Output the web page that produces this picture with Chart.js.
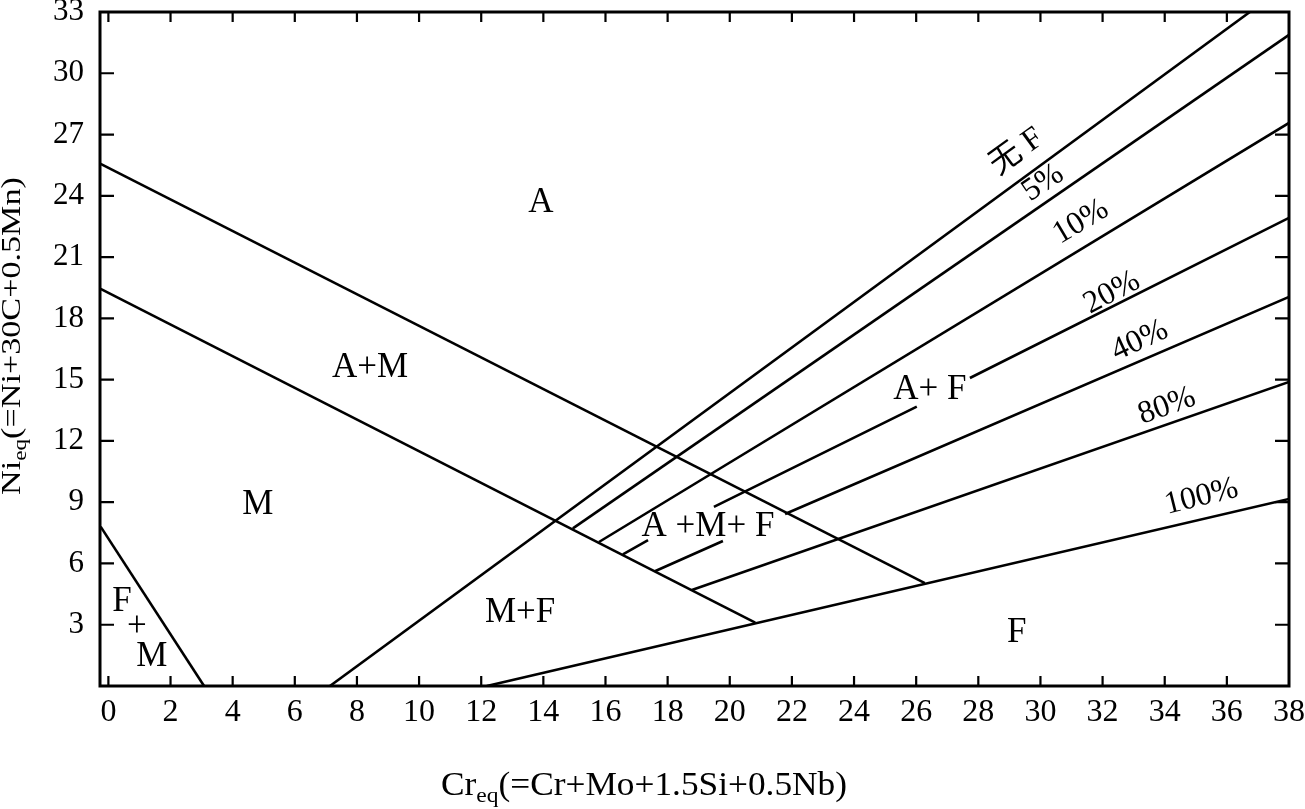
<!DOCTYPE html>
<html>
<head>
<meta charset="utf-8">
<script src="https://cdn.jsdelivr.net/npm/chart.js@4.4.0/dist/chart.umd.min.js"></script>
<style>
  body { margin: 0; background: #fff; }
</style>
</head>
<body>
<canvas id="myChart" width="1305" height="809"></canvas>
<script>
// tick values
const xTicks = [0, 2, 4, 6, 8, 10, 12, 14, 16, 18, 20, 22, 24, 26, 28, 30, 32, 34, 36, 38];
const yTicks = [0, 3, 6, 9, 12, 15, 18, 21, 24, 27, 30, 33];

// boundary lines, [Cr_eq, Ni_eq]; a null y breaks the line (room for a label)
const lineFM = [[-0.25, 7.8], [3.08, 0]];
const lineA = [[-0.25, 25.56], [26.28, 5.04]];
const lineM = [[-0.25, 19.44], [20.82, 3.1]];
const lineNoF = [[7.13, 0], [36.74, 33]];
const line5 = [[14.95, 7.72], [38, 31.88]];
const line10 = [[15.79, 7.05], [38, 27.57]];
const line20 = [[16.56, 6.45], [17.37, 7.14], [18.4, null], [19.49, 8.77], [26.02, 13.68], [26.9, null], [27.73, 15.08], [38, 22.92]];
const line40 = [[17.59, 5.62], [19.78, 7.1], [20.8, null], [21.78, 8.42], [38, 19.05]];
const line80 = [[18.78, 4.7], [38, 14.89]];
const line100 = [[12.18, 0], [38, 9.16]];

// region names
const regionText = ['A', 'A+M', 'M', 'F', '+', 'M', 'M+F', 'F', 'A +M+ F', 'A+ F'];
const regionX = [13.92, 8.42, 4.81, 0.44, 0.92, 1.4, 13.25, 29.24, 19.3, 26.44];
const regionY = [23.65, 15.57, 8.86, 4.1, 2.89, 1.42, 3.57, 2.6, 7.79, 14.5];

// ferrite content labels along the lines
const ferriteText = ['无 F', '5%', '10%', '20%', '40%', '80%', '100%'];
const ferriteX = [29.24, 30.08, 31.3, 32.3, 33.2, 34.07, 35.18];
const ferriteY = [26.15, 24.63, 22.72, 19.25, 16.9, 13.7, 9.26];
const ferriteAngle = [-36, -34, -31, -28, -25, -20, -14];

const serif = '"Liberation Serif", "Times New Roman", "Noto Sans CJK SC", serif';

function toXY(arr) {
    return arr.map(p => ({ x: p[0], y: p[1] }));
}

const lines = [lineFM, lineA, lineM, lineNoF, line5, line10, line20, line40, line80, line100];

// subscripted text, parts = [[text, isSub], ...], centred on 0,0
function drawParts(ctx, parts, size, stretch) {
    const subSize = Math.round(size * 0.68);
    ctx.scale(stretch, 1);
    let total = 0;
    parts.forEach(p => {
        ctx.font = (p[1] ? subSize : size) + 'px ' + serif;
        total += ctx.measureText(p[0]).width;
    });
    let x = -total / 2;
    ctx.textAlign = 'left';
    ctx.textBaseline = 'middle';
    parts.forEach(p => {
        ctx.font = (p[1] ? subSize : size) + 'px ' + serif;
        ctx.fillText(p[0], x, p[1] ? size * 0.3 : 0);
        x += ctx.measureText(p[0]).width;
    });
}

const diagramPlugin = {
    id: 'diagram',
    afterDraw(chart) {
        const ctx = chart.ctx;
        const a = chart.chartArea;
        const xs = chart.scales.x, ys = chart.scales.y;
        ctx.save();
        ctx.fillStyle = '#000';
        ctx.strokeStyle = '#000';

        // frame
        ctx.lineWidth = 3;
        ctx.strokeRect(a.left, a.top, a.right - a.left, a.bottom - a.top);

        // inward ticks
        ctx.lineWidth = 2.2;
        ctx.beginPath();
        xTicks.forEach(v => {
            const px = xs.getPixelForValue(v);
            if (px <= a.left + 2 || px >= a.right - 2) return;
            ctx.moveTo(px, a.bottom); ctx.lineTo(px, a.bottom - 10);
            ctx.moveTo(px, a.top); ctx.lineTo(px, a.top + 10);
        });
        yTicks.forEach(v => {
            const py = ys.getPixelForValue(v);
            if (py <= a.top + 2 || py >= a.bottom - 2) return;
            ctx.moveTo(a.left, py); ctx.lineTo(a.left + 14, py);
            ctx.moveTo(a.right, py); ctx.lineTo(a.right - 14, py);
        });
        ctx.stroke();

        // region names
        ctx.textAlign = 'center';
        ctx.textBaseline = 'middle';
        ctx.font = '35px ' + serif;
        regionText.forEach((t, i) => {
            ctx.fillText(t, xs.getPixelForValue(regionX[i]), ys.getPixelForValue(regionY[i]));
        });

        // ferrite labels
        ctx.font = '32px ' + serif;
        ferriteText.forEach((t, i) => {
            ctx.save();
            ctx.translate(xs.getPixelForValue(ferriteX[i]), ys.getPixelForValue(ferriteY[i]));
            ctx.rotate(ferriteAngle[i] * Math.PI / 180);
            ctx.fillText(t, 0, 0);
            ctx.restore();
        });

        // axis titles
        ctx.save();
        ctx.translate(644, 786);
        drawParts(ctx, [['Cr', false], ['eq', true], ['(=Cr+Mo+1.5Si+0.5Nb)', false]], 33, 1.07);
        ctx.restore();

        ctx.save();
        ctx.translate(13, 336);
        ctx.rotate(-Math.PI / 2);
        drawParts(ctx, [['Ni', false], ['eq', true], ['(=Ni+30C+0.5Mn)', false]], 28, 1.22);
        ctx.restore();

        ctx.restore();
    }
};

const ctx = document.getElementById('myChart').getContext('2d');
const chart = new Chart(ctx, {
    type: 'scatter',
    data: {
        datasets: lines.map(l => ({
            data: toXY(l),
            showLine: true,
            spanGaps: false,
            borderColor: '#000',
            borderWidth: 2.6,
            pointRadius: 0,
            fill: false
        }))
    },
    options: {
        responsive: false,
        animation: false,
        layout: { padding: { top: 12, right: 16, left: 0, bottom: 0 } },
        plugins: { legend: { display: false }, tooltip: { enabled: false } },
        scales: {
            x: {
                type: 'linear',
                min: -0.27,
                max: 38,
                afterBuildTicks: s => { s.ticks = xTicks.map(v => ({ value: v })); },
                afterFit: s => { s.height = 123; s.paddingLeft = 0; s.paddingRight = 0; },
                grid: { display: false, drawTicks: false },
                border: { display: false },
                ticks: { color: '#000', font: { family: serif, size: 32 }, padding: 7, maxRotation: 0, autoSkip: false }
            },
            y: {
                type: 'linear',
                min: 0,
                max: 33,
                afterBuildTicks: s => { s.ticks = yTicks.map(v => ({ value: v })); },
                afterFit: s => { s.width = 100; s.paddingTop = 0; s.paddingBottom = 0; },
                grid: { display: false, drawTicks: false },
                border: { display: false },
                ticks: { color: '#000', font: { family: serif, size: 31 }, padding: 16, autoSkip: false,
                         callback: v => (v === 0 ? '' : v) }
            }
        }
    },
    plugins: [diagramPlugin]
});
</script>
</body>
</html>
